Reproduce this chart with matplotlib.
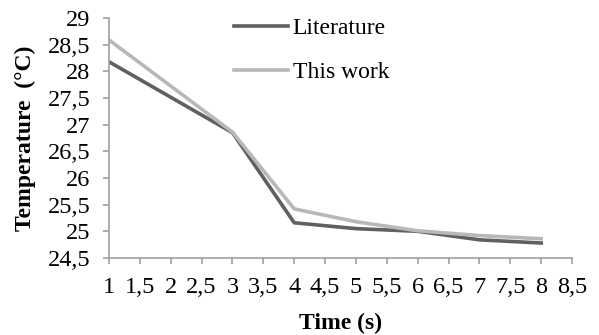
import matplotlib.pyplot as plt
from matplotlib.ticker import MultipleLocator, FuncFormatter

plt.rcParams['font.family'] = ['Liberation Serif', 'DejaVu Serif']

time_s = [1, 3, 4, 5, 6, 7, 8]
literature = [28.18, 26.85, 25.16, 25.05, 25.0, 24.84, 24.78]
this_work = [28.59, 26.86, 25.42, 25.18, 25.01, 24.92, 24.86]

fig = plt.figure(figsize=(5.99, 3.35), dpi=100)
ax = fig.add_axes([0.182, 0.230, 0.773, 0.716])

ax.plot(time_s, literature, color='#606060', lw=2.6, label='Literature')
ax.plot(time_s, this_work, color='#b8b8b8', lw=2.6, label='This work')

ax.set_xlim(1, 8.5)
ax.set_ylim(24.5, 29)
ax.xaxis.set_major_locator(MultipleLocator(0.5))
ax.yaxis.set_major_locator(MultipleLocator(0.5))
comma = FuncFormatter(lambda v, p: ('%g' % v).replace('.', ','))
ax.xaxis.set_major_formatter(comma)
ax.yaxis.set_major_formatter(comma)

for side in ['top', 'right']:
    ax.spines[side].set_visible(False)
for side in ['left', 'bottom']:
    ax.spines[side].set_color('#a0a0a0')
    ax.spines[side].set_linewidth(1.2)
ax.tick_params(axis='both', colors='#a0a0a0', labelcolor='black', labelsize=17.5,
               length=4.5, width=1.2, direction='out')
ax.tick_params(axis='x', pad=9)
ax.tick_params(axis='y', pad=9)

ax.set_xlabel('Time (s)', fontsize=17, fontweight='bold', labelpad=11)
ax.set_ylabel('Temperature  (°C)', fontsize=17, fontweight='bold', labelpad=8)

ax.legend(loc='upper left', bbox_to_anchor=(0.223, 1.09), frameon=False, fontsize=17,
          handlelength=2.3, handletextpad=0.2, labelspacing=0.95)

fig.savefig('out.png', dpi=100)
